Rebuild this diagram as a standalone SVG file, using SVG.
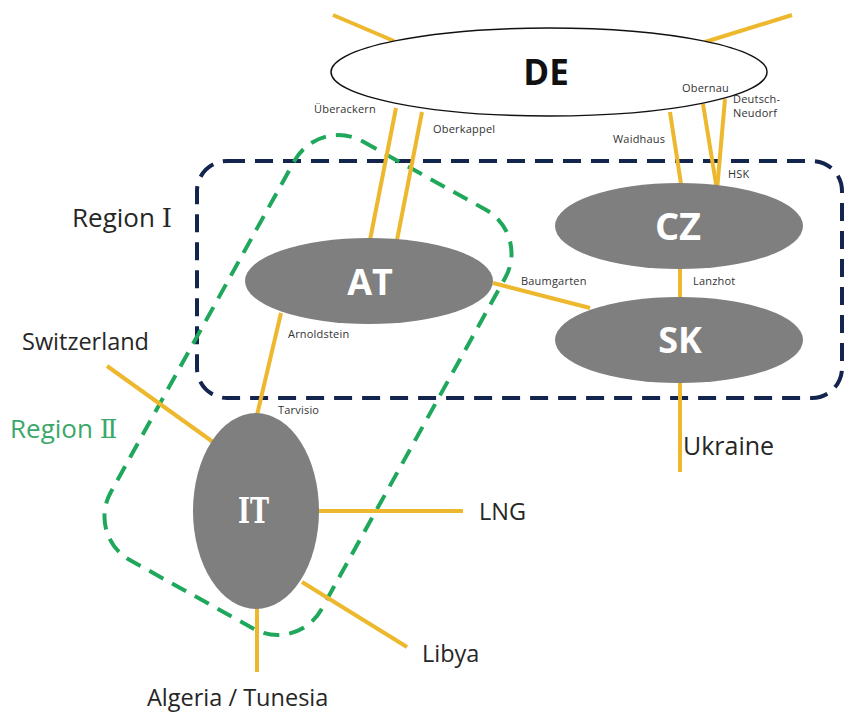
<svg xmlns="http://www.w3.org/2000/svg" width="845" height="715" viewBox="0 0 845 715">
<style>
.pipe{stroke:#EDB82E;stroke-width:4;stroke-linecap:butt;fill:none}
.node{fill:#7f7f7f}
.nl{font-family:"Open Sans","Noto Sans","DejaVu Sans",sans-serif;font-weight:700;fill:#ffffff;text-anchor:middle}
.sm{font-family:"Open Sans","Noto Sans","DejaVu Sans",sans-serif;font-size:11px;letter-spacing:0.2px;fill:#333333}
.lb{font-family:"Open Sans","Noto Sans","DejaVu Sans",sans-serif;font-size:23.5px;fill:#262626}
.rn{font-family:"DejaVu Serif","Liberation Serif",serif}
</style>
<rect width="845" height="715" fill="#ffffff"/>
<g id="regions">
<rect id="region1" x="197" y="161" width="645" height="237" rx="30" fill="none" stroke="#13244f" stroke-width="4" stroke-dasharray="18 10"/>
<rect id="region2" x="-120.5" y="-239.5" width="241" height="479" rx="50" transform="translate(308,385) rotate(29)" fill="none" stroke="#1fa85c" stroke-width="4" stroke-dasharray="16 10"/>
</g>
<g id="connectors">
<line class="pipe" x1="333" y1="15" x2="394" y2="41"/>
<line class="pipe" x1="792" y1="15" x2="705" y2="42"/>
<line class="pipe" x1="396" y1="108" x2="370" y2="240"/>
<line class="pipe" x1="422" y1="112" x2="397" y2="240"/>
<line class="pipe" x1="670" y1="112" x2="681" y2="184"/>
<line class="pipe" x1="703" y1="104" x2="717" y2="190"/>
<line class="pipe" x1="725" y1="99" x2="717" y2="190"/>
<line class="pipe" x1="680" y1="268" x2="680" y2="298"/>
<line class="pipe" x1="493" y1="283" x2="590" y2="308"/>
<line class="pipe" x1="281" y1="313" x2="257" y2="415"/>
<line class="pipe" x1="107" y1="366" x2="213" y2="442"/>
<line class="pipe" x1="318" y1="511" x2="463" y2="511"/>
<line class="pipe" x1="302" y1="582" x2="407" y2="647"/>
<line class="pipe" x1="257" y1="607" x2="257" y2="672"/>
<line class="pipe" x1="680" y1="381" x2="680" y2="472"/>
</g>
<g id="DE">
<ellipse cx="549" cy="72" rx="218" ry="44" fill="#ffffff" stroke="#111111" stroke-width="1.5"/>
<text x="546" y="85" class="nl" style="fill:#111111;font-size:35px">DE</text>
</g>
<g id="AT">
<ellipse class="node" cx="369" cy="281" rx="124" ry="43"/>
<text x="370" y="295" class="nl" style="font-size:36px">AT</text>
</g>
<g id="CZ">
<ellipse class="node" cx="679" cy="226" rx="124" ry="43"/>
<text x="678" y="240" class="nl" style="font-size:38px">CZ</text>
</g>
<g id="SK">
<ellipse class="node" cx="679" cy="340" rx="124" ry="43"/>
<text x="680" y="353" class="nl" style="font-size:36px">SK</text>
</g>
<g id="IT">
<ellipse class="node" cx="256" cy="511" rx="63" ry="98"/>
<text x="238" y="523" textLength="31" lengthAdjust="spacingAndGlyphs" style="font-family:'DejaVu Serif','Liberation Serif',serif;font-weight:700;font-size:35px;fill:#ffffff">IT</text>
</g>
<g id="labels">
<text x="314" y="113" class="sm">Überackern</text>
<text x="433" y="133" class="sm">Oberkappel</text>
<text x="682" y="92" class="sm">Obernau</text>
<text x="733" y="103" class="sm">Deutsch-</text>
<text x="733" y="117" class="sm">Neudorf</text>
<text x="613" y="143" class="sm">Waidhaus</text>
<text x="728" y="178" class="sm">HSK</text>
<text x="288" y="338" class="sm">Arnoldstein</text>
<text x="278" y="414" class="sm">Tarvisio</text>
<text x="521" y="285" class="sm">Baumgarten</text>
<text x="693" y="285" class="sm">Lanzhot</text>
<text x="72" y="227" class="lb" style="font-size:26px">Region <tspan class="rn">Ⅰ</tspan></text>
<text x="10" y="438" class="lb" style="font-size:26px;fill:#3aa86a">Region <tspan class="rn">Ⅱ</tspan></text>
<text x="22" y="350" class="lb">Switzerland</text>
<text x="479" y="520" class="lb">LNG</text>
<text x="422" y="662" class="lb">Libya</text>
<text x="147" y="706" class="lb">Algeria / Tunesia</text>
<text x="683" y="455" class="lb" style="font-size:25px">Ukraine</text>
</g>
</svg>
